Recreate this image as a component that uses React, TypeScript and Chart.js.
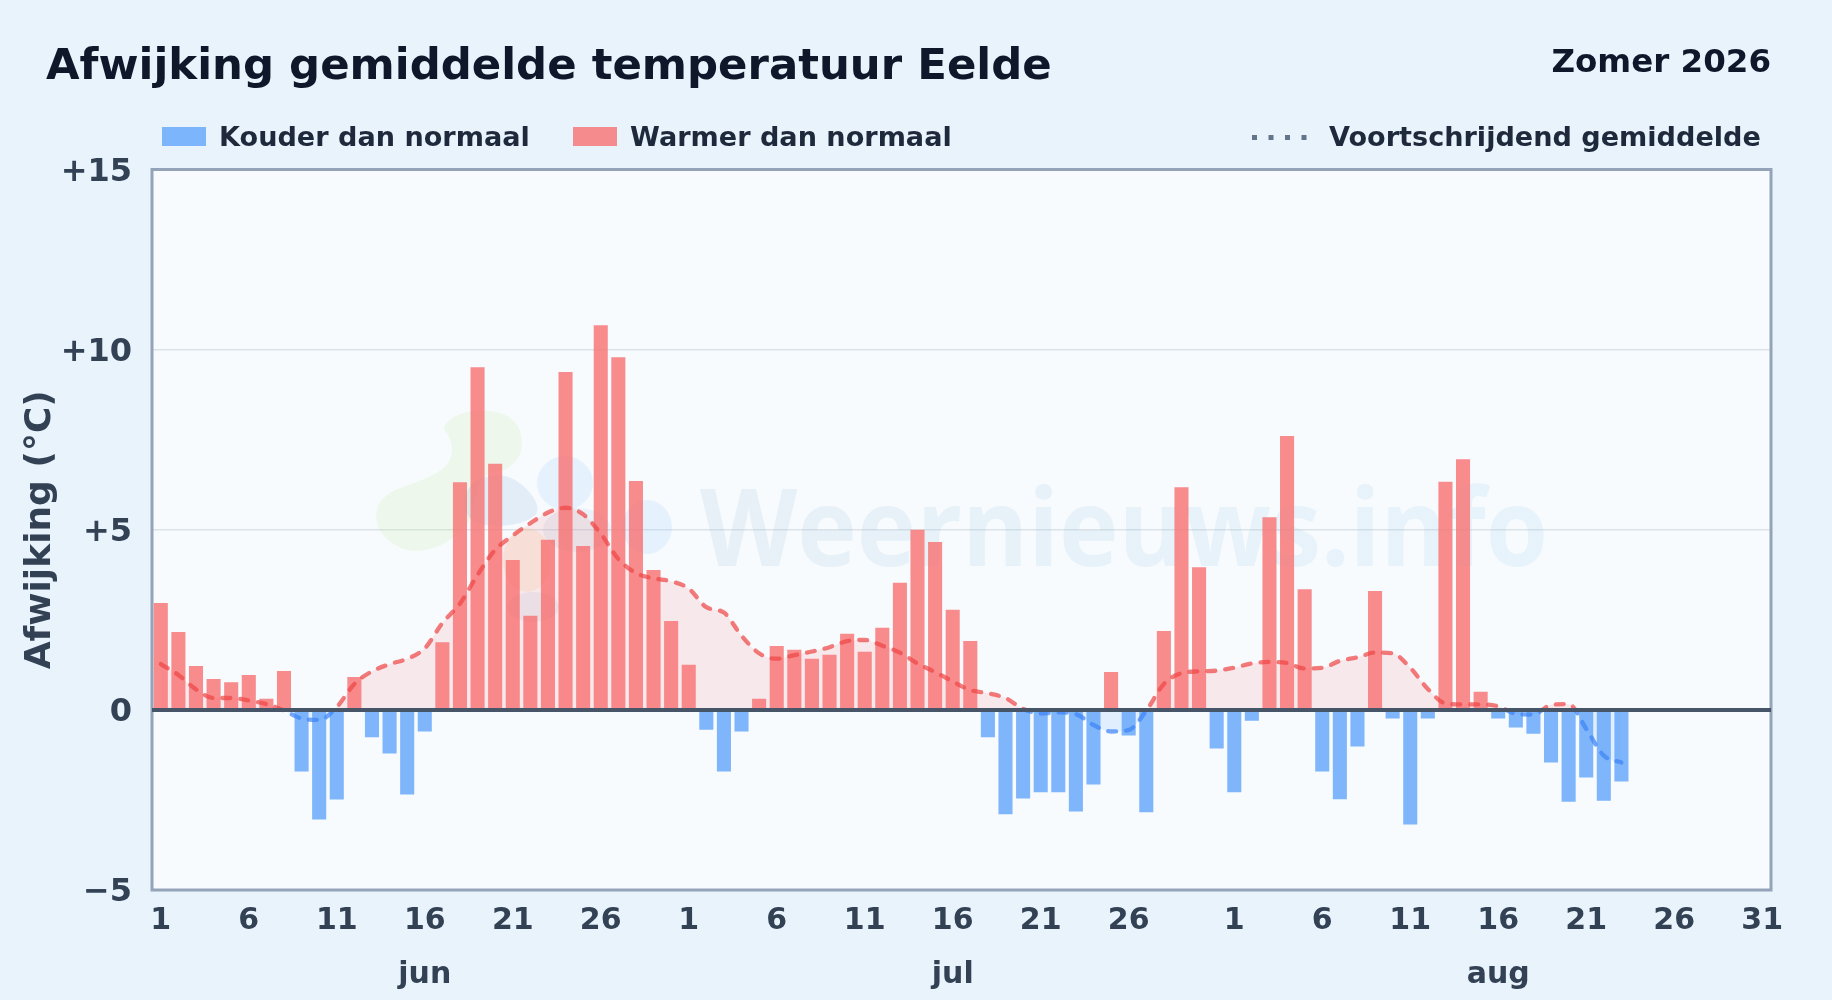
import React, { useEffect, useRef } from "react";
import { Chart, registerables } from "chart.js";

Chart.register(...registerables);

const monthLengths = [30, 31, 31];
const monthNames = ["jun", "jul", "aug"];
const tickDays = [
  [1, 6, 11, 16, 21, 26],
  [1, 6, 11, 16, 21, 26],
  [1, 6, 11, 16, 21, 26, 31],
];
const monthLabelDay = 16;

const afwijking: (number | null)[] = [
  2.97, 2.16, 1.22, 0.86, 0.77, 0.97, 0.31, 1.08, -1.71, -3.04, -2.49, 0.91, -0.76, -1.21, -2.35, -0.6, 1.88, 6.32, 9.51, 6.83, 4.16, 2.61, 4.72, 9.38, 4.55, 10.68, 9.79, 6.35, 3.88, 2.47,
  1.25, -0.55, -1.71, -0.6, 0.31, 1.77, 1.67, 1.42, 1.53, 2.11, 1.61, 2.28, 3.53, 5.0, 4.66, 2.78, 1.91, -0.76, -2.9, -2.46, -2.29, -2.29, -2.82, -2.07, 1.05, -0.71, -2.84, 2.19, 6.18, 3.96, -1.07,
  -2.29, -0.3, 5.35, 7.6, 3.35, -1.71, -2.48, -1.02, 3.3, -0.24, -3.18, -0.24, 6.33, 6.96, 0.5, -0.24, -0.49, -0.66, -1.46, -2.55, -1.88, -2.52, -1.99, null, null, null, null, null, null, null, null,
];

const gemiddelde: (number | null)[] = [
  1.27, 0.97, 0.57, 0.33, 0.33, 0.26, 0.16, -0.02, -0.24, -0.28, 0.08, 0.72, 1.07, 1.27, 1.42, 1.71, 2.41, 2.95, 3.75, 4.44, 4.84, 5.18, 5.48, 5.61, 5.43, 4.89, 4.19, 3.8, 3.65, 3.57,
  3.37, 2.85, 2.7, 2.06, 1.57, 1.42, 1.52, 1.62, 1.74, 1.91, 1.94, 1.78, 1.59, 1.29, 1.05, 0.79, 0.55, 0.46, 0.33, 0.03, -0.1, -0.07, -0.12, -0.42, -0.6, -0.56, -0.02, 0.72, 1.02, 1.07, 1.09,
  1.17, 1.29, 1.33, 1.3, 1.15, 1.17, 1.36, 1.46, 1.59, 1.57, 1.17, 0.58, 0.18, 0.15, 0.15, 0.1, -0.11, -0.13, 0.14, 0.16, -0.53, -1.27, -1.46, null, null, null, null, null, null, null, null,
];

const titel = "Afwijking gemiddelde temperatuur Eelde";
const seizoen = "Zomer 2026";
const legendKoud = "Kouder dan normaal";
const legendWarm = "Warmer dan normaal";
const legendLijn = "Voortschrijdend gemiddelde";
const yTitel = "Afwijking (°C)";
const watermerk = "Weernieuws.info";

const FONT = '"DejaVu Sans"';
const BLUE = "rgba(96,165,250,0.8)";
const RED = "rgba(248,113,113,0.8)";

const labels: string[][] = [];
monthLengths.forEach((len, m) => {
  for (let d = 1; d <= len; d++) {
    const line: string[] = [];
    if (tickDays[m].includes(d)) line.push(String(d));
    if (d === monthLabelDay) line.push(monthNames[m]);
    labels.push(line);
  }
});

const logoGroen: [number, number][] = [
  [440, 425], [470, 408], [515, 415], [525, 448], [510, 470], [480, 475], [475, 500], [470, 525], [440, 548], [405, 553], [375, 530], [378, 495], [430, 478], [452, 462], [452, 440],
];
const logoGrijs: [number, number][] = [
  [473, 480], [503, 473], [527, 487], [541, 510], [527, 522], [500, 527], [470, 523], [462, 500],
];
const logoEllipsen: [number, number, number, number, string][] = [
  [565, 483, 28, 27, "rgba(147,197,253,0.17)"],
  [647, 527, 25, 27, "rgba(147,197,253,0.17)"],
  [577, 530, 34, 22, "rgba(120,160,210,0.10)"],
  [527, 560, 24, 32, "rgba(251,191,120,0.16)"],
  [533, 607, 26, 15, "rgba(120,150,200,0.10)"],
];

function smoothBlob(ctx: any, pts: [number, number][], color: string) {
  const n = pts.length;
  ctx.fillStyle = color;
  ctx.beginPath();
  ctx.moveTo((pts[n - 1][0] + pts[0][0]) / 2, (pts[n - 1][1] + pts[0][1]) / 2);
  for (let i = 0; i < n; i++) {
    const nx = pts[(i + 1) % n];
    ctx.quadraticCurveTo(pts[i][0], pts[i][1], (pts[i][0] + nx[0]) / 2, (pts[i][1] + nx[1]) / 2);
  }
  ctx.closePath();
  ctx.fill();
}

const decor = {
  id: "decor",
  beforeDraw(chart: any) {
    const { ctx, chartArea: a } = chart;
    ctx.save();
    ctx.fillStyle = "#e8f3fc";
    ctx.fillRect(0, 0, chart.width, chart.height);
    ctx.fillStyle = "#f7fbfe";
    ctx.fillRect(a.left, a.top, a.right - a.left, a.bottom - a.top);
    ctx.restore();
  },
  beforeDatasetsDraw(chart: any) {
    const { ctx, chartArea: a } = chart;
    ctx.save();
    smoothBlob(ctx, logoGroen, "rgba(190,225,130,0.15)");
    smoothBlob(ctx, logoGrijs, "rgba(120,165,215,0.16)");
    logoEllipsen.forEach(([x, y, rx, ry, c]) => {
      ctx.fillStyle = c;
      ctx.beginPath();
      ctx.ellipse(x, y, rx, ry, 0, 0, Math.PI * 2);
      ctx.fill();
    });
    ctx.font = `bold 108px "Open Sans"`;
    const w = ctx.measureText(watermerk).width;
    const grad = ctx.createLinearGradient(0, 0, w, 0);
    grad.addColorStop(0, "rgba(141,178,208,0.15)");
    grad.addColorStop(1, "rgba(141,198,235,0.15)");
    ctx.fillStyle = grad;
    ctx.textAlign = "left";
    ctx.textBaseline = "alphabetic";
    ctx.save();
    ctx.translate(700, 566);
    ctx.scale(848 / w, 1);
    ctx.fillText(watermerk, 0, 0);
    ctx.restore();
    ctx.strokeStyle = "#94a3b8";
    ctx.lineWidth = 3;
    ctx.strokeRect(a.left, a.top, a.right - a.left, a.bottom - a.top);
    ctx.restore();
  },
  afterDatasetsDraw(chart: any) {
    const { ctx, chartArea: a, scales } = chart;
    const y0 = scales.y.getPixelForValue(0);
    ctx.save();
    ctx.strokeStyle = "#475569";
    ctx.lineWidth = 4;
    ctx.beginPath();
    ctx.moveTo(a.left, y0);
    ctx.lineTo(a.right, y0);
    ctx.stroke();
    ctx.restore();
  },
  afterDraw(chart: any) {
    const { ctx } = chart;
    ctx.save();
    ctx.textBaseline = "alphabetic";
    ctx.textAlign = "left";
    ctx.fillStyle = "#0f172a";
    ctx.font = `bold 43.4px ${FONT}`;
    ctx.fillText(titel, 46, 79);
    ctx.textAlign = "right";
    ctx.font = `bold 32.5px ${FONT}`;
    ctx.fillText(seizoen, 1771, 72);

    ctx.font = `bold 27.1px ${FONT}`;
    ctx.fillStyle = "#1e293b";
    ctx.textAlign = "left";
    ctx.fillText(legendKoud, 219, 146);
    ctx.fillText(legendWarm, 630, 146);
    ctx.fillText(legendLijn, 1329, 146);
    ctx.fillStyle = BLUE;
    ctx.fillRect(162, 127, 44, 19);
    ctx.fillStyle = RED;
    ctx.fillRect(573, 127, 44, 19);
    ctx.fillStyle = "#64748b";
    for (let i = 0; i < 4; i++) ctx.fillRect(1252 + i * 16.5, 135, 5, 5);
    ctx.restore();
  },
};

function lineGradient(c: any) {
  const { chart } = c;
  const { ctx, scales, chartArea } = chart;
  if (!chartArea) return "#f87171";
  const top = chartArea.top;
  const bottom = chartArea.bottom;
  const stop = (scales.y.getPixelForValue(0) - top) / (bottom - top);
  const g = ctx.createLinearGradient(0, top, 0, bottom);
  g.addColorStop(0, "rgba(239,68,68,0.7)");
  g.addColorStop(stop, "rgba(239,68,68,0.7)");
  g.addColorStop(stop, "rgba(59,130,246,0.7)");
  g.addColorStop(1, "rgba(59,130,246,0.7)");
  return g;
}

export default function App() {
  const ref = useRef<HTMLCanvasElement>(null);
  useEffect(() => {
    const chart = new Chart(ref.current as HTMLCanvasElement, {
      type: "bar",
      plugins: [decor],
      data: {
        labels: labels as any,
        datasets: [
          {
            type: "line",
            label: legendLijn,
            data: gemiddelde,
            borderColor: lineGradient as any,
            borderWidth: 4.3,
            borderDash: [8, 10],
            borderCapStyle: "round",
            pointRadius: 0,
            tension: 0.4,
            cubicInterpolationMode: "monotone",
            fill: { target: { value: 0 }, above: "rgba(250,110,110,0.135)", below: "rgba(96,165,250,0.15)" },
            order: 0,
          } as any,
          {
            label: legendKoud,
            data: afwijking.map((v) => (v !== null && v < 0 ? v : null)),
            backgroundColor: BLUE,
            grouped: false,
            barPercentage: 0.8,
            categoryPercentage: 1,
            order: 1,
          } as any,
          {
            label: legendWarm,
            data: afwijking.map((v) => (v !== null && v >= 0 ? v : null)),
            backgroundColor: RED,
            grouped: false,
            barPercentage: 0.8,
            categoryPercentage: 1,
            order: 1,
          } as any,
        ],
      },
      options: {
        responsive: false,
        animation: false,
        layout: { padding: { left: 0, top: 169.5, right: 61, bottom: 0 } },
        plugins: { legend: { display: false }, title: { display: false }, tooltip: { enabled: false } },
        scales: {
          x: {
            offset: true,
            grid: { display: false, drawTicks: false },
            border: { display: false },
            afterFit(s: any) {
              s.height = 110;
            },
            ticks: {
              autoSkip: false,
              maxRotation: 0,
              minRotation: 0,
              padding: 4,
              color: "#334155",
              font: { family: FONT, size: 30, weight: "bold", lineHeight: 1.8 },
              callback(this: any, v: any) {
                return this.getLabelForValue(v) as any;
              },
            },
          },
          y: {
            min: -5,
            max: 15,
            afterFit(s: any) {
              s.width = 152;
            },
            grid: { color: "#dbe3e8", lineWidth: 1.5, drawTicks: false },
            border: { display: false },
            title: {
              display: true,
              text: yTitel,
              color: "#334155",
              font: { family: FONT, size: 36, weight: "bold" },
              padding: { top: 19, bottom: 0 },
            },
            ticks: {
              stepSize: 5,
              padding: 20,
              color: "#334155",
              font: { family: FONT, size: 32, weight: "bold", lineHeight: "6px" },
              callback(v: any) {
                const t = v === 0 ? "0" : v > 0 ? `+${v}` : `\u2212${Math.abs(v)}`;
                return ["", t];
              },
            },
          },
        },
      },
    });
    return () => chart.destroy();
  }, []);
  return (
    <div style={{ position: "absolute", left: 0, top: 0, width: 1832, height: 1000 }}>
      <canvas ref={ref} width={1832} height={1000} style={{ display: "block" }} />
    </div>
  );
}
